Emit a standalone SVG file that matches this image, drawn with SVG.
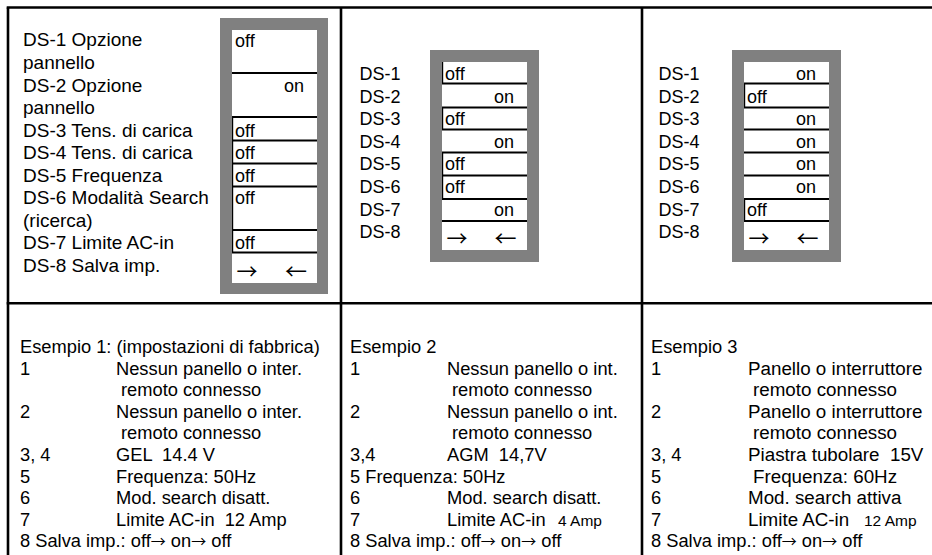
<svg xmlns="http://www.w3.org/2000/svg" width="932" height="555" viewBox="0 0 932 555">
<style>
text{font-family:"Liberation Sans",Arial,sans-serif;font-size:18px;fill:#000}
.lab{font-size:19px}
.bt{font-size:18.3px}
.b3{font-size:18.8px}
.sm{font-size:15.5px}
.arr{font-family:"Noto Sans CJK SC",sans-serif;font-size:21px}
.ia{font-family:"Noto Sans CJK SC",sans-serif;font-size:15px}
.frame{fill:#808080}
.inner{fill:#fff}
.tl{stroke:#000;stroke-width:2.6;fill:none}
.sl{stroke:#000;stroke-width:2;fill:none}
.ol{stroke:#000;stroke-width:1.2;fill:none}
</style>
<rect width="932" height="555" fill="#fff"/>
<g id="table">
<line class="tl" x1="6.7" y1="7.5" x2="932" y2="7.5"/>
<line class="tl" x1="8" y1="7.5" x2="8" y2="555"/>
<line class="tl" x1="6.7" y1="303.3" x2="932" y2="303.3"/>
<line class="tl" x1="341" y1="7.5" x2="341" y2="555"/>
<line class="tl" x1="642" y1="7.5" x2="642" y2="555"/>
</g>
<g id="labels1">
<text class="lab" x="23" y="46">DS-1 Opzione</text>
<text class="lab" x="23" y="68.5">pannello</text>
<text class="lab" x="23" y="91.5">DS-2 Opzione</text>
<text class="lab" x="23" y="114">pannello</text>
<text class="lab" x="23" y="136.5">DS-3 Tens. di carica</text>
<text class="lab" x="23" y="159">DS-4 Tens. di carica</text>
<text class="lab" x="23" y="181.5">DS-5 Frequenza</text>
<text class="lab" x="23" y="204">DS-6 Modalità Search</text>
<text class="lab" x="23" y="226.5">(ricerca)</text>
<text class="lab" x="23" y="249">DS-7 Limite AC-in</text>
<text class="lab" x="23" y="271.5">DS-8 Salva imp.</text>
</g>
<g id="switch1">
<rect class="frame" x="220" y="18" width="108" height="276"/>
<rect class="inner" x="232" y="30" width="85" height="253"/>
<line class="sl" x1="232" y1="73" x2="317" y2="73"/>
<line class="sl" x1="232" y1="117" x2="317" y2="117"/>
<line class="sl" x1="232" y1="140.5" x2="317" y2="140.5"/>
<line class="sl" x1="232" y1="163.5" x2="317" y2="163.5"/>
<line class="sl" x1="232" y1="186.5" x2="317" y2="186.5"/>
<line class="sl" x1="232" y1="230" x2="317" y2="230"/>
<line class="sl" x1="232" y1="252.5" x2="317" y2="252.5"/>
<line class="ol" x1="232.6" y1="117" x2="232.6" y2="252.5"/>
<text x="235" y="47">off</text>
<text x="284" y="92">on</text>
<text x="235" y="136.5">off</text>
<text x="235" y="159">off</text>
<text x="235" y="181.5">off</text>
<text x="235" y="204">off</text>
<text x="235" y="249">off</text>
<text class="arr" x="236.5" y="279" textLength="21" lengthAdjust="spacingAndGlyphs">→</text>
<text class="arr" x="285" y="279" textLength="22" lengthAdjust="spacingAndGlyphs">←</text>
</g>
<g id="labels2">
<text x="359.5" y="80">DS-1</text>
<text x="359.5" y="102.6">DS-2</text>
<text x="359.5" y="125.2">DS-3</text>
<text x="359.5" y="147.8">DS-4</text>
<text x="359.5" y="170.4">DS-5</text>
<text x="359.5" y="193">DS-6</text>
<text x="359.5" y="215.6">DS-7</text>
<text x="359.5" y="238.2">DS-8</text>
</g>
<g id="switch2">
<rect class="frame" x="430" y="50" width="109" height="212"/>
<rect class="inner" x="442" y="62" width="85" height="188"/>
<line class="sl" x1="442" y1="83.5" x2="527" y2="83.5"/>
<line class="sl" x1="442" y1="107.5" x2="527" y2="107.5"/>
<line class="sl" x1="442" y1="129.5" x2="527" y2="129.5"/>
<line class="sl" x1="442" y1="152.5" x2="527" y2="152.5"/>
<line class="sl" x1="442" y1="175.5" x2="527" y2="175.5"/>
<line class="sl" x1="442" y1="199" x2="527" y2="199"/>
<line class="sl" x1="442" y1="221" x2="527" y2="221"/>
<line class="ol" x1="442.6" y1="62" x2="442.6" y2="83.5"/>
<line class="ol" x1="442.6" y1="107.5" x2="442.6" y2="129.5"/>
<line class="ol" x1="442.6" y1="152.5" x2="442.6" y2="199"/>
<text x="445" y="80">off</text>
<text x="494" y="102.6">on</text>
<text x="445" y="125.2">off</text>
<text x="494" y="147.8">on</text>
<text x="445" y="170.4">off</text>
<text x="445" y="193">off</text>
<text x="494" y="215.6">on</text>
<text class="arr" x="446.5" y="246" textLength="21" lengthAdjust="spacingAndGlyphs">→</text>
<text class="arr" x="494.5" y="246" textLength="22" lengthAdjust="spacingAndGlyphs">←</text>
</g>
<g id="labels3">
<text x="658.5" y="80">DS-1</text>
<text x="658.5" y="102.6">DS-2</text>
<text x="658.5" y="125.2">DS-3</text>
<text x="658.5" y="147.8">DS-4</text>
<text x="658.5" y="170.4">DS-5</text>
<text x="658.5" y="193">DS-6</text>
<text x="658.5" y="215.6">DS-7</text>
<text x="658.5" y="238.2">DS-8</text>
</g>
<g id="switch3">
<rect class="frame" x="732" y="50" width="109" height="212"/>
<rect class="inner" x="744" y="62" width="85" height="188"/>
<line class="sl" x1="744" y1="83.5" x2="829" y2="83.5"/>
<line class="sl" x1="744" y1="107.5" x2="829" y2="107.5"/>
<line class="sl" x1="744" y1="129.5" x2="829" y2="129.5"/>
<line class="sl" x1="744" y1="152.5" x2="829" y2="152.5"/>
<line class="sl" x1="744" y1="175.5" x2="829" y2="175.5"/>
<line class="sl" x1="744" y1="199" x2="829" y2="199"/>
<line class="sl" x1="744" y1="221" x2="829" y2="221"/>
<line class="ol" x1="744.6" y1="83.5" x2="744.6" y2="107.5"/>
<line class="ol" x1="744.6" y1="199" x2="744.6" y2="221"/>
<text x="796" y="80">on</text>
<text x="747" y="102.6">off</text>
<text x="796" y="125.2">on</text>
<text x="796" y="147.8">on</text>
<text x="796" y="170.4">on</text>
<text x="796" y="193">on</text>
<text x="747" y="215.6">off</text>
<text class="arr" x="748.5" y="246" textLength="21" lengthAdjust="spacingAndGlyphs">→</text>
<text class="arr" x="796.5" y="246" textLength="22" lengthAdjust="spacingAndGlyphs">←</text>
</g>
<g id="example1">
<text class="bt" x="20" y="353">Esempio 1: (impostazioni di fabbrica)</text>
<text class="bt" x="20" y="374.6">1</text><text class="bt" x="116" y="374.6">Nessun panello o inter.</text>
<text class="bt" x="121" y="396.2">remoto connesso</text>
<text class="bt" x="20" y="417.8">2</text><text class="bt" x="116" y="417.8">Nessun panello o inter.</text>
<text class="bt" x="121" y="439.4">remoto connesso</text>
<text class="bt" x="20" y="461">3, 4</text><text class="bt" x="116" y="461" xml:space="preserve">GEL  14.4 V</text>
<text class="bt" x="20" y="482.6">5</text><text class="bt" x="116" y="482.6">Frequenza: 50Hz</text>
<text class="bt" x="20" y="504.2">6</text><text class="bt" x="116" y="504.2">Mod. search disatt.</text>
<text class="bt" x="20" y="525.8">7</text><text class="bt" x="116" y="525.8" xml:space="preserve">Limite AC-in  12 Amp</text>
<text class="bt" x="20" y="547.4">8 Salva imp.: off<tspan class="ia">→</tspan> on<tspan class="ia">→</tspan> off</text>
</g>
<g id="example2">
<text class="bt" x="350" y="353">Esempio 2</text>
<text class="bt" x="350" y="374.6">1</text><text class="bt" x="447" y="374.6">Nessun panello o int.</text>
<text class="bt" x="452" y="396.2">remoto connesso</text>
<text class="bt" x="350" y="417.8">2</text><text class="bt" x="447" y="417.8">Nessun panello o int.</text>
<text class="bt" x="452" y="439.4">remoto connesso</text>
<text class="bt" x="350" y="461">3,4</text><text class="bt" x="447" y="461" xml:space="preserve">AGM  14,7V</text>
<text class="bt" x="350" y="482.6">5 Frequenza: 50Hz</text>
<text class="bt" x="350" y="504.2">6</text><text class="bt" x="447" y="504.2">Mod. search disatt.</text>
<text class="bt" x="350" y="525.8">7</text><text class="bt" x="447" y="525.8">Limite AC-in</text><text class="sm" x="558" y="525.8">4 Amp</text>
<text class="bt" x="350" y="547.4">8 Salva imp.: off<tspan class="ia">→</tspan> on<tspan class="ia">→</tspan> off</text>
</g>
<g id="example3">
<text class="bt" x="651" y="353">Esempio 3</text>
<text class="bt" x="651" y="374.6">1</text><text class="b3" x="748" y="374.6">Panello o interruttore</text>
<text class="b3" x="753" y="396.2">remoto connesso</text>
<text class="bt" x="651" y="417.8">2</text><text class="b3" x="748" y="417.8">Panello o interruttore</text>
<text class="b3" x="753" y="439.4">remoto connesso</text>
<text class="bt" x="651" y="461">3, 4</text><text class="b3" x="748" y="461" xml:space="preserve">Piastra tubolare  15V</text>
<text class="bt" x="651" y="482.6">5</text><text class="b3" x="753" y="482.6">Frequenza: 60Hz</text>
<text class="bt" x="651" y="504.2">6</text><text class="b3" x="748" y="504.2">Mod. search attiva</text>
<text class="bt" x="651" y="525.8">7</text><text class="b3" x="748" y="525.8">Limite AC-in</text><text class="sm" x="864" y="525.8">12 Amp</text>
<text class="bt" x="651" y="547.4">8 Salva imp.: off<tspan class="ia">→</tspan> on<tspan class="ia">→</tspan> off</text>
</g>
</svg>
